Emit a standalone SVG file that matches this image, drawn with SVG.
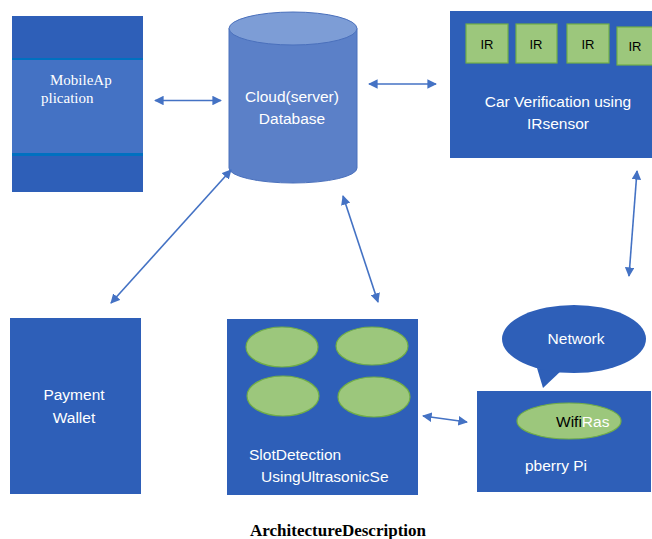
<svg xmlns="http://www.w3.org/2000/svg" width="652" height="539" viewBox="0 0 652 539">
<style>
.box{fill:#2e5fb8}
.sans{font-family:"Liberation Sans",Arial,sans-serif;font-size:15.5px;fill:#ffffff}
.ir{fill:#9cc77c;stroke:#70ad47;stroke-width:1.2}
.irt{font-family:"Liberation Sans",Arial,sans-serif;font-size:13px;fill:#000}
.con{stroke:#4472c4;stroke-width:1.6;fill:none;marker-start:url(#ah);marker-end:url(#ah)}
</style>
<defs>
<marker id="ah" viewBox="0 0 10 10" refX="9" refY="5" markerWidth="6" markerHeight="6" orient="auto-start-reverse">
<path d="M0,0 L10,5 L0,10 Z" fill="#4472c4"/>
</marker>
</defs>
<rect width="652" height="539" fill="#ffffff"/>

<g id="mobile">
<rect x="12" y="16" width="131" height="176" class="box"/>
<rect x="12" y="58" width="131" height="97" fill="#4472c4"/>
<rect x="12" y="58" width="131" height="2" fill="#0070c0"/>
<rect x="12" y="153" width="131" height="3" fill="#0070c0"/>
<text x="50" y="85" font-family="'Liberation Serif','Times New Roman',serif" font-size="15" fill="#fff">MobileAp</text>
<text x="41" y="103" font-family="'Liberation Serif','Times New Roman',serif" font-size="15" fill="#fff">plication</text>
</g>

<g id="cloud">
<path d="M229,28.5 L229,168 A64,15 0 0 0 357,168 L357,28.5 Z" fill="#5b80c8" stroke="#4a70bc" stroke-width="1"/>
<ellipse cx="293" cy="28.5" rx="64" ry="16.5" fill="#7d9dd6" stroke="#4a70bc" stroke-width="1"/>
<text x="292" y="102" text-anchor="middle" class="sans">Cloud(server)</text>
<text x="292" y="124" text-anchor="middle" class="sans">Database</text>
</g>

<g id="car">
<rect x="450" y="11" width="202" height="147" class="box"/>
<rect x="466" y="24" width="42" height="39" class="ir"/>
<rect x="516" y="24" width="41" height="39" class="ir"/>
<rect x="567" y="24" width="42" height="39" class="ir"/>
<rect x="617" y="27" width="36" height="38" class="ir"/>
<text x="487" y="49" text-anchor="middle" class="irt">IR</text>
<text x="536" y="49" text-anchor="middle" class="irt">IR</text>
<text x="588" y="49" text-anchor="middle" class="irt">IR</text>
<text x="635" y="51" text-anchor="middle" class="irt">IR</text>
<text x="558" y="107" text-anchor="middle" class="sans">Car Verification using</text>
<text x="558" y="129" text-anchor="middle" class="sans">IRsensor</text>
</g>

<g id="payment">
<rect x="10" y="318" width="131" height="176" class="box"/>
<text x="74" y="400" text-anchor="middle" class="sans">Payment</text>
<text x="74" y="423" text-anchor="middle" class="sans">Wallet</text>
</g>

<g id="slot">
<rect x="227" y="319" width="191" height="176" class="box"/>
<ellipse cx="282" cy="347" rx="36" ry="20" class="ir"/>
<ellipse cx="372" cy="346" rx="36" ry="19" class="ir"/>
<ellipse cx="283" cy="396" rx="36" ry="20" class="ir"/>
<ellipse cx="374" cy="397" rx="36" ry="20" class="ir"/>
<text x="249" y="460" class="sans">SlotDetection</text>
<text x="261" y="482" class="sans">UsingUltrasonicSe</text>
</g>

<g id="network">
<path d="M537,368 L543,388 L562,370 Z" class="box"/>
<ellipse cx="574" cy="339" rx="72" ry="34" class="box"/>
<text x="576" y="344" text-anchor="middle" class="sans">Network</text>
</g>

<g id="raspberry">
<rect x="477" y="391" width="174" height="101" class="box"/>
<ellipse cx="569" cy="421" rx="52" ry="18" class="ir"/>
<text x="556" y="427" class="sans"><tspan fill="#000">Wifi</tspan>Ras</text>
<text x="525" y="471" class="sans">pberry Pi</text>
</g>

<g id="connectors">
<line x1="155" y1="100.5" x2="221" y2="100.5" class="con"/>
<line x1="369" y1="84" x2="436" y2="84" class="con"/>
<line x1="231" y1="170" x2="111" y2="303" class="con"/>
<line x1="343" y1="196" x2="378" y2="302" class="con"/>
<line x1="637" y1="171" x2="629" y2="276" class="con"/>
<line x1="423" y1="416" x2="467" y2="422" class="con"/>
</g>

<text x="338" y="536" text-anchor="middle" font-family="'Liberation Serif','Times New Roman',serif" font-size="17" font-weight="bold" fill="#000">ArchitectureDescription</text>
</svg>
